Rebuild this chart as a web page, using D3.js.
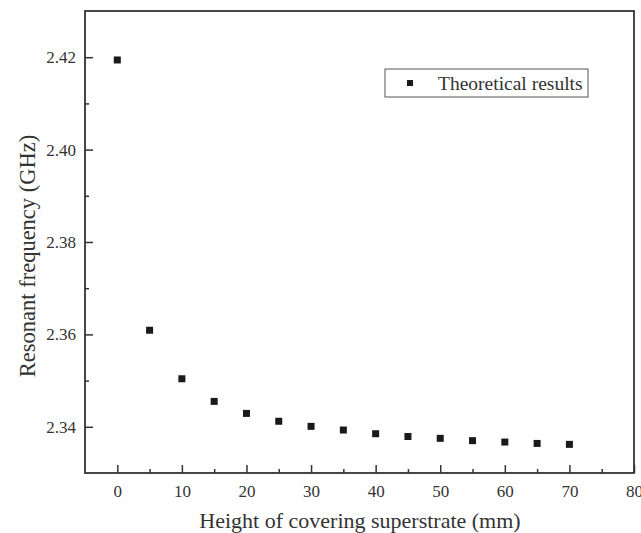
<!DOCTYPE html>
<html>
<head>
<meta charset="utf-8">
<script src="https://cdn.jsdelivr.net/npm/d3@7"></script>
<style>
  html, body { margin: 0; padding: 0; background: #fff; }
  svg { display: block; }
  text { font-family: "Liberation Serif", "Times New Roman", serif; fill: #333; }
</style>
</head>
<body>
<script>
const heights = [0, 5, 10, 15, 20, 25, 30, 35, 40, 45, 50, 55, 60, 65, 70];
const frequencies = [2.4194, 2.3609, 2.3504, 2.3455, 2.3429, 2.3412, 2.3401, 2.3393, 2.3385, 2.3379, 2.3375, 2.3370, 2.3367, 2.3364, 2.3362];
const xMajorTicks = [0, 10, 20, 30, 40, 50, 60, 70, 80];
const xMinorTicks = [5, 15, 25, 35, 45, 55, 65, 75];
const yMajorTicks = [2.34, 2.36, 2.38, 2.40, 2.42];
const yMinorTicks = [2.35, 2.37, 2.39, 2.41];
const seriesName = "Theoretical results";
const xTitle = "Height of covering superstrate (mm)";
const yTitle = "Resonant frequency (GHz)";

const FONT = "'Liberation Serif', 'Times New Roman', serif";
const W = 641, H = 533;
const L = 85, R = 634, T = 11, B = 473;

const svg = d3.select("body").append("svg").attr("width", W).attr("height", H)
  .style("font-family", FONT);

const x = d3.scaleLinear().domain([-5, 80]).range([L, R]);
const y = d3.scaleLinear().domain([2.33, 2.43]).range([B, T]);

function styleAxis(g, fs) {
  g.attr("font-family", null);
  g.select(".domain").remove();
  g.selectAll("line").attr("stroke", "#333").attr("stroke-width", 1.5);
  g.selectAll("text").style("font-size", fs).style("font-family", FONT).style("fill", "#333");
}

const gx = svg.append("g").attr("transform", `translate(0,${B})`)
  .call(d3.axisBottom(x).tickValues(xMajorTicks).tickSizeInner(-8).tickSizeOuter(0).tickPadding(12).tickFormat(d3.format("d")));
styleAxis(gx, "17px");

const gxm = svg.append("g").attr("transform", `translate(0,${B})`)
  .call(d3.axisBottom(x).tickValues(xMinorTicks).tickSizeInner(-4).tickSizeOuter(0).tickFormat(""));
styleAxis(gxm, "17px");

const gy = svg.append("g").attr("transform", `translate(${L},0)`)
  .call(d3.axisLeft(y).tickValues(yMajorTicks).tickSizeInner(-8).tickSizeOuter(0).tickPadding(9).tickFormat(d3.format(".2f")));
styleAxis(gy, "17px");

const gym = svg.append("g").attr("transform", `translate(${L},0)`)
  .call(d3.axisLeft(y).tickValues(yMinorTicks).tickSizeInner(-4).tickSizeOuter(0).tickFormat(""));
styleAxis(gym, "17px");

// Frame
svg.append("rect").attr("x", L).attr("y", T).attr("width", R - L).attr("height", B - T)
  .attr("fill", "none").attr("stroke", "#333").attr("stroke-width", 1.8);

// Data points
const data = heights.map((h, i) => ({ h, f: frequencies[i] }));
const s = 7;
svg.append("g").selectAll("rect").data(data).join("rect")
  .attr("x", d => x(d.h) - s / 2).attr("y", d => y(d.f) - s / 2)
  .attr("width", s).attr("height", s).attr("fill", "#1a1a1a");

// Legend
const lg = svg.append("g");
lg.append("rect").attr("x", 385).attr("y", 69).attr("width", 203).attr("height", 28)
  .attr("fill", "#fff").attr("stroke", "#555").attr("stroke-width", 1);
lg.append("rect").attr("x", 410 - 3).attr("y", 83 - 3).attr("width", 6).attr("height", 6).attr("fill", "#1a1a1a");
lg.append("text").attr("x", 438).attr("y", 89.5).style("font-size", "19.5px").style("font-family", FONT).text(seriesName);

// Axis titles
svg.append("text").attr("x", 360).attr("y", 528).attr("text-anchor", "middle")
  .style("font-size", "22px").style("font-family", FONT).text(xTitle);
svg.append("text").attr("transform", `translate(35,256) rotate(-90)`).attr("text-anchor", "middle")
  .style("font-size", "22.5px").style("font-family", FONT).text(yTitle);
</script>
</body>
</html>
